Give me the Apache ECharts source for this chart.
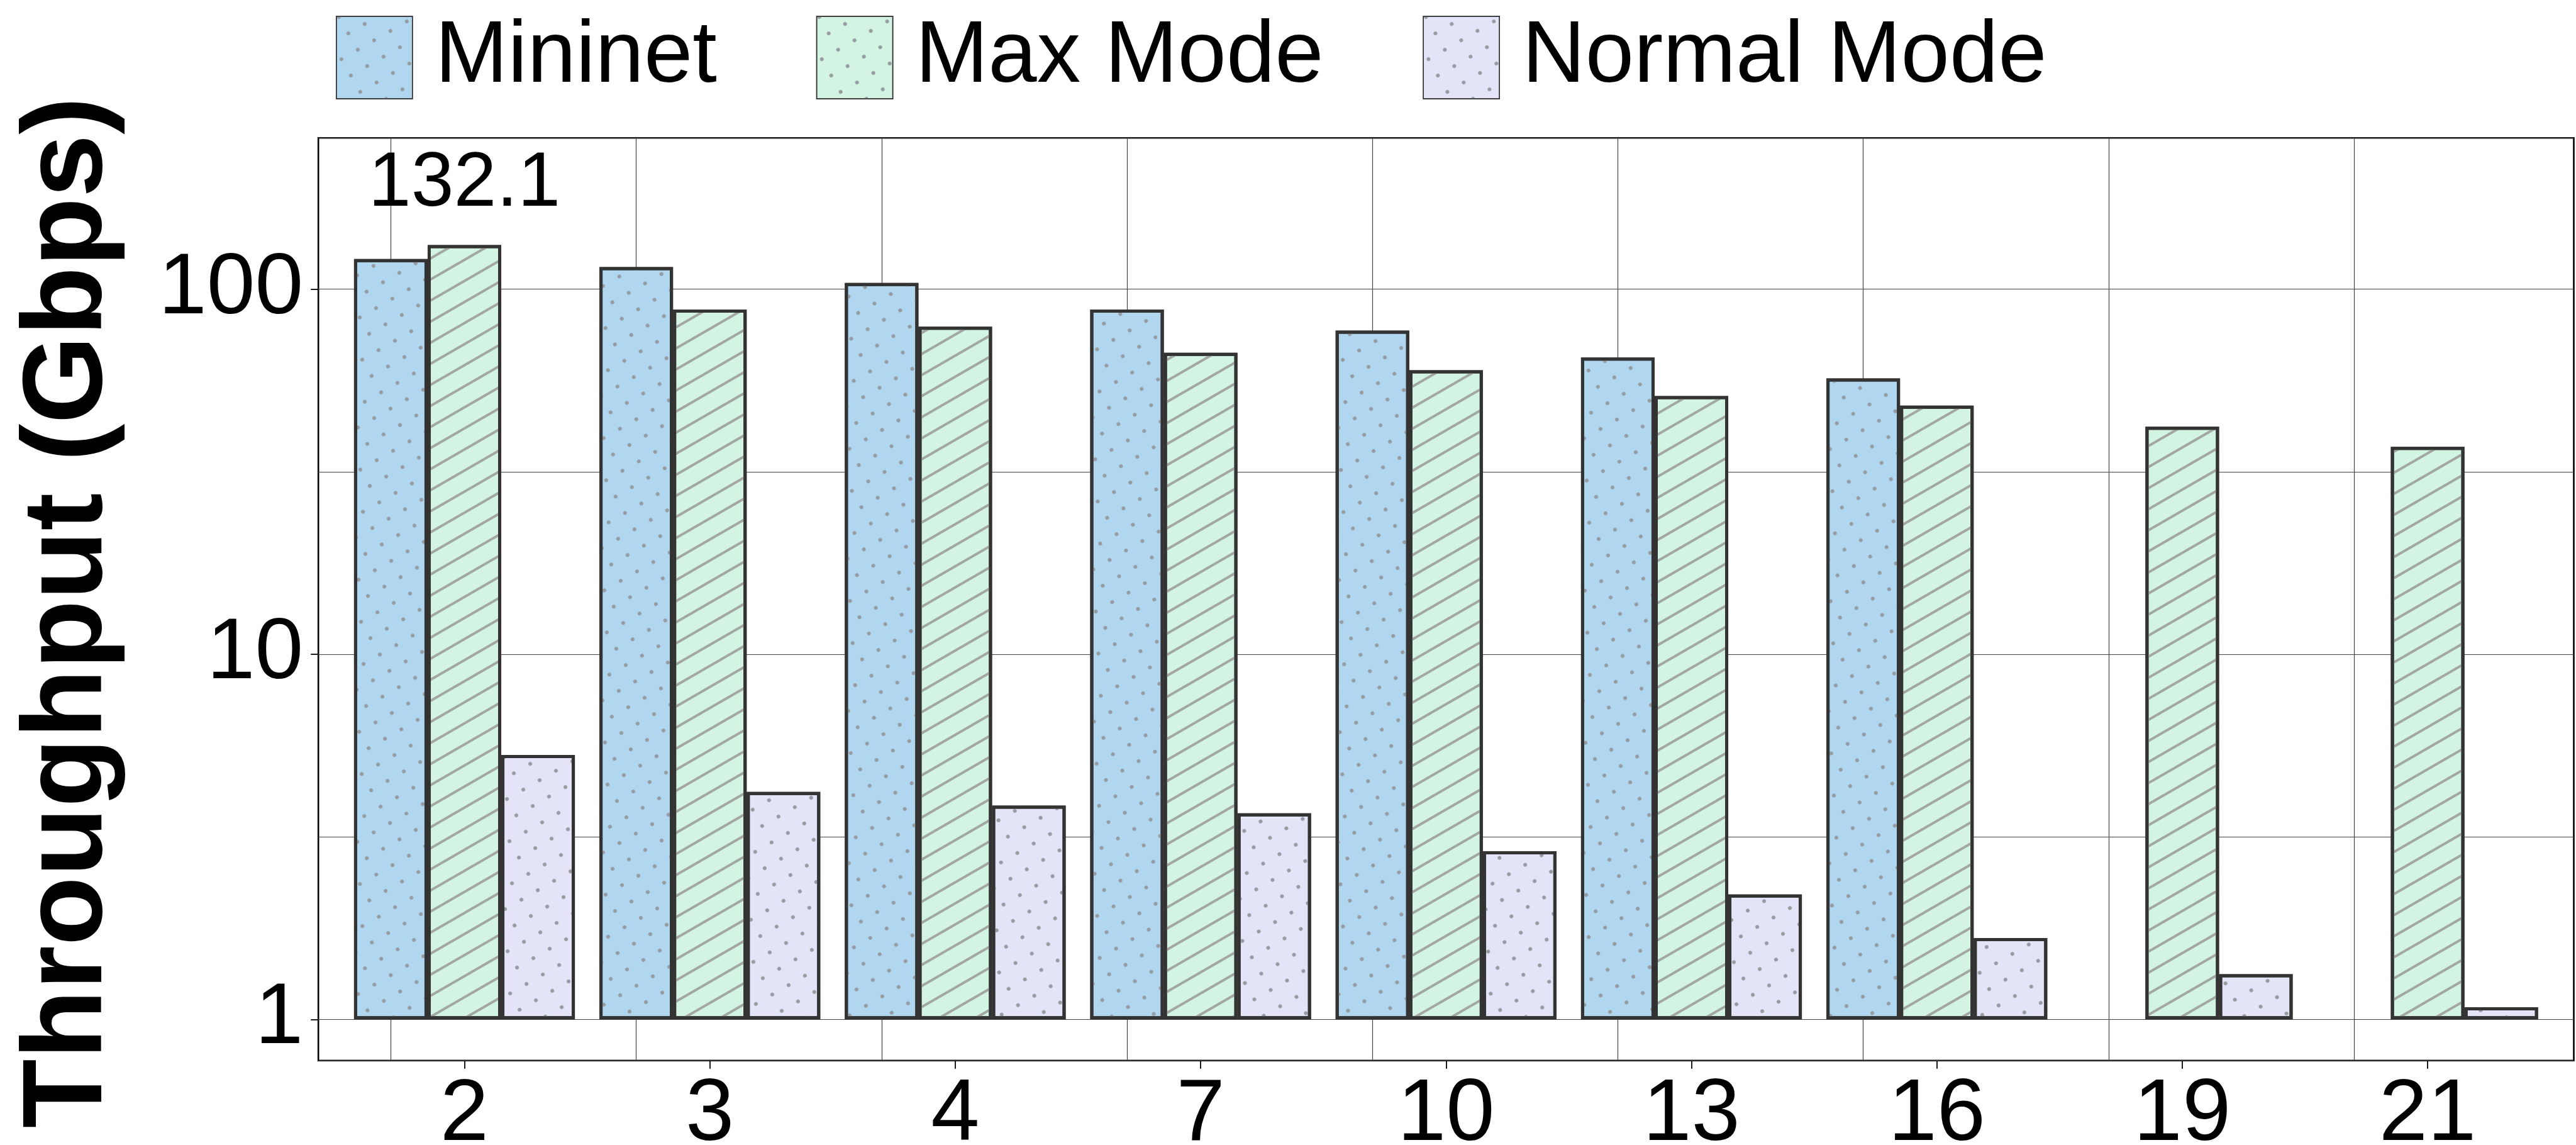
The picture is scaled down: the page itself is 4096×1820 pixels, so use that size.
<!DOCTYPE html>
<html><head><meta charset="utf-8">
<script src="https://cdn.jsdelivr.net/npm/echarts@6/dist/echarts.min.js"></script>
<style>html,body{margin:0;padding:0;background:#fff}#c{width:4096px;height:1820px}</style>
</head><body><div id="c"></div>
<script>
const categories = ['2', '3', '4', '7', '10', '13', '16', '19', '21'];
const mininet = [121, 115, 104, 88, 77, 65, 57, null, null];
const maxMode = [132.1, 88, 79, 67, 60, 51, 48, 42, 37];
const normalMode = [5.3, 4.2, 3.85, 3.67, 2.89, 2.2, 1.67, 1.33, 1.08];
const seriesNames = ['Mininet', 'Max Mode', 'Normal Mode'];
const yTickValues = [1, 10, 100];
const yMin = 0.7716, yMax = 259.7;
const annotatedValue = 132.1;

const FONT = '"Liberation Sans", Arial, Helvetica, sans-serif';
const dots = {symbol: 'circle', symbolSize: 1, dashArrayX: [5.5, 23.9], dashArrayY: [5.5, 23.9], rotation: -Math.PI / 6, color: '#959ba1'};
const hatch = {symbol: 'rect', symbolSize: 1, dashArrayX: [1, 0], dashArrayY: [4, 25], rotation: -Math.PI / 6, color: '#a2a7a2'};
const barBase = {type: 'bar', xAxisIndex: 1, yAxisIndex: 2, barWidth: '30%', barGap: '0%', z: 2};
const edge = {borderColor: '#333', borderWidth: 5};

const chart = echarts.init(document.getElementById('c'), null, {renderer: 'canvas'});
chart.setOption({
  animation: false,
  backgroundColor: '#fff',
  grid: [
    {left: 506.2, top: 219.2, width: 3586.3, height: 1466.5, show: true, borderColor: '#000', borderWidth: 2.6,
      backgroundColor: 'transparent', containLabel: false, outerBoundsMode: 'none'},
    {left: 543.4, top: 219.2, width: 3511.8, height: 1466.5, containLabel: false, outerBoundsMode: 'none'}
  ],
  legend: {
    left: 529, top: 17, itemWidth: 121, itemHeight: 131, itemGap: 158, icon: 'rect', selectedMode: false,
    textStyle: {fontSize: 139, fontFamily: FONT, color: '#000', padding: [0, 0, 0, 31]},
    itemStyle: {borderWidth: 1.5, borderColor: '#333'},
    data: [{name: seriesNames[0]}, {name: seriesNames[1], itemStyle: {decal: dots}}, {name: seriesNames[2]}]
  },
  xAxis: [
    {gridIndex: 0, type: 'value', show: false},
    {gridIndex: 1, type: 'category', data: categories, boundaryGap: true,
      axisLine: {show: false, onZero: false},
      axisTick: {show: true, alignWithLabel: true, length: 13, lineStyle: {color: '#000', width: 1.8}},
      axisLabel: {fontSize: 139, fontFamily: FONT, color: '#000', margin: 18},
      splitLine: {show: false}}
  ],
  yAxis: [
    {gridIndex: 0, type: 'log', logBase: 10, min: yMin, max: yMax,
      axisLine: {show: false},
      axisTick: {show: true, length: 12, customValues: yTickValues, lineStyle: {color: '#000', width: 1.8}},
      axisLabel: {customValues: yTickValues, fontSize: 138, fontFamily: FONT, color: '#000', margin: 24},
      splitLine: {show: false},
      name: 'Throughput (Gbps)', nameLocation: 'middle', nameGap: 305, nameMoveOverlap: false,
      nameTextStyle: {fontSize: 180, fontWeight: 'bold', fontFamily: FONT, color: '#000', padding: [0, 42, 0, 0]}},
    {gridIndex: 0, type: 'log', logBase: Math.sqrt(10), min: yMin, max: yMax,
      axisLine: {show: false}, axisTick: {show: false}, axisLabel: {show: false},
      splitLine: {show: true, lineStyle: {color: '#444', width: 1.2}}},
    {gridIndex: 1, type: 'log', logBase: 10, min: yMin, max: yMax, show: false}
  ],
  series: [
    Object.assign({}, barBase, {name: seriesNames[0], data: mininet,
      itemStyle: Object.assign({color: '#b0d6f0', decal: dots}, edge),
      markLine: {silent: true, z: 1, symbol: 'none', label: {show: false},
        lineStyle: {color: '#444', width: 1.2, type: 'solid'},
        data: categories.map((c, i) => ({xAxis: i}))}}),
    Object.assign({}, barBase, {name: seriesNames[1],
      data: maxMode.map(v => v === annotatedValue ? {value: v, label: {show: true}} : v),
      itemStyle: Object.assign({color: '#d3f3e3', decal: hatch}, edge),
      label: {show: false, position: 'top', distance: 35, fontSize: 122, fontFamily: FONT, color: '#000'}}),
    Object.assign({}, barBase, {name: seriesNames[2], data: normalMode,
      itemStyle: Object.assign({color: '#e4e4f8', decal: dots}, edge)})
  ]
});
</script></body></html>
